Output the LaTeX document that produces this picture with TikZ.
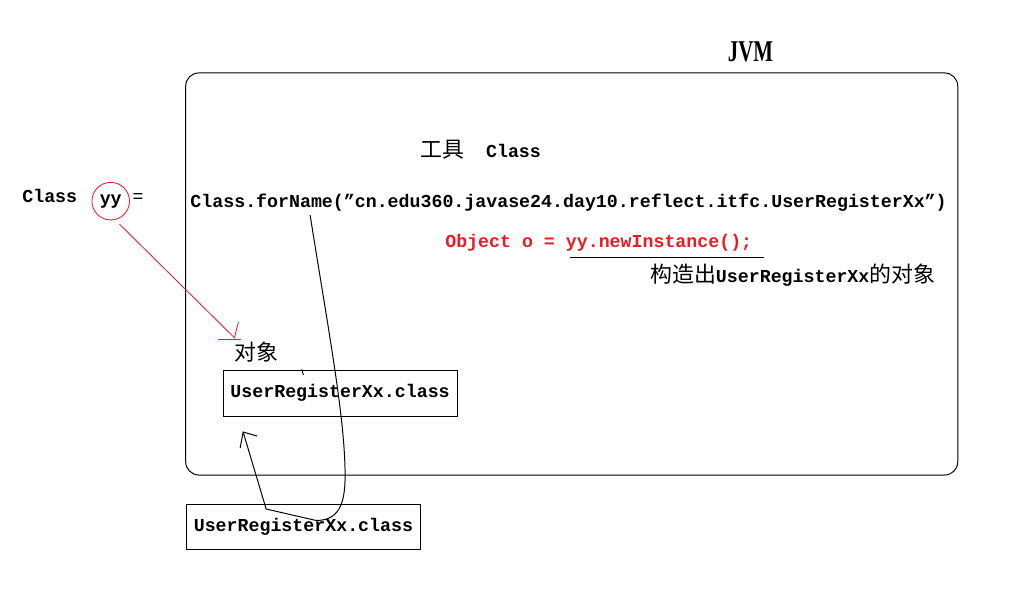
\documentclass[tikz,border=0pt]{standalone}
\usepackage{fontspec}
\setmainfont{Liberation Mono}
\newfontfamily\cjk[Scale=1.2]{Noto Sans CJK SC}
\newfontfamily\jvmfont{Liberation Serif}
\newcommand\zh[1]{{\cjk\mdseries #1}}
\usetikzlibrary{positioning}
\definecolor{penred}{RGB}{237,28,36}

\begin{document}
\begin{tikzpicture}[
		font=\fontsize{13}{15}\selectfont\bfseries,
		every node/.style={inner sep=0pt},
		classbox/.style={draw, line width=0.7pt, minimum width=5.85cm, minimum height=1.14cm},
		pen/.style={line width=0.7pt},
		redpen/.style={line width=0.6pt, penred}]
		\filldraw[white] (0,0) rectangle (25.325,14.75);
		
		\draw[pen, rounded corners=0.33cm] (4.6375,2.875) rectangle (23.95,12.9325);
		\node (jvm) at (18.765,13.46) {\scalebox{0.69}[1]{\jvmfont\fontsize{21.5}{24}\selectfont JVM}};
		
		\node[anchor=base west] (tool) at (10.5,10.825) {\zh{工具}\ \ Class};
		
		\node[anchor=base] (cls) at (1.2375,9.6925) {Class};
		\node[circle, draw=penred, line width=0.6pt, minimum size=0.94cm] (yy) at (2.7625,9.725) {yy};
		\node[anchor=base] (eq) at (3.45,9.6925) {\mdseries=};
		
		\node[anchor=base west] (forname) at (4.75,9.5675) {Class.forName(”cn.edu360.javase24.day10.reflect.itfc.UserRegisterXx”)};
		\node[anchor=base west, text=penred] (obj) at (11.125,8.5625) {Object o = yy.newInstance();};
		\draw[pen] (14.25,8.325) -- (19.1,8.325);
		\node[anchor=base west] (make) at (16.25,7.7) {\zh{构造出}UserRegisterXx\zh{的对象}};
		
		\node (objlabel) at (6.4125,5.9375) {\zh{对象}};
		\node[classbox] (inner) at (8.5,4.91875) {UserRegisterXx.class};
		\node[classbox] (outer) at (7.583,1.57) {UserRegisterXx.class};
		
		\coordinate (redstart) at (2.9825,9.15);
		\coordinate (redtip) at (5.8575,6.3075);
		\draw[redpen] (redstart) -- (redtip) -- (5.9575,6.7075);
		\draw[redpen] (5.4575,6.275) -- (6.0175,6.275);
		
		\coordinate (pull) at (7.75,9.375);
		\coordinate (push) at (6.075,3.95);
		\draw[pen] (pull) .. controls (8.25,6.25) and (8.625,4.25) .. (8.625,2.85)
			.. controls (8.625,2.125) and (8.45,1.7375) .. (7.9,1.7375) -- (6.65,2.025) -- (push);
		\draw[pen] (6.0,3.55) -- (push) -- (6.425,3.85);
		\draw[pen] (7.5425,5.5175) -- (7.5825,5.375);

	\end{tikzpicture}
\end{document}
